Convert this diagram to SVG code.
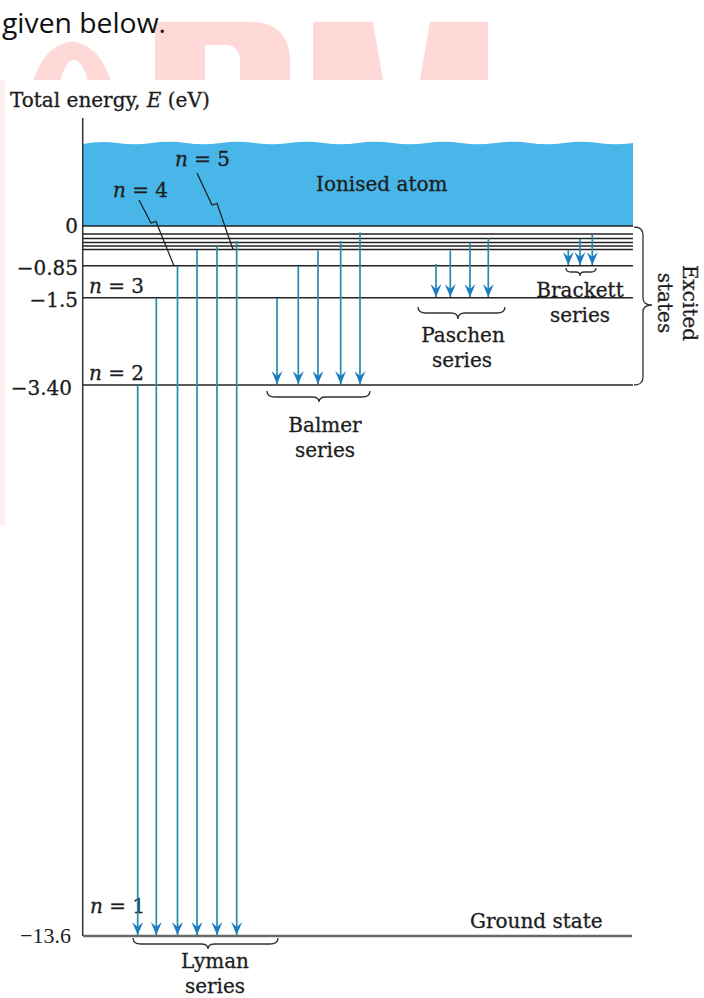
<svg xmlns="http://www.w3.org/2000/svg" width="704" height="998" viewBox="0 0 704 998">
<style>
.t{font-family:"DejaVu Serif","Liberation Serif",serif;font-size:20px;fill:#1d1d1d;stroke:#1d1d1d;stroke-width:0.3}
.it{font-style:italic}
.lvl{stroke:#222;stroke-width:1.4}
.arr{stroke:#2a8aae;stroke-width:1.7;marker-end:url(#ah)}
.brace{fill:none;stroke:#333;stroke-width:1.3}
.ptr{fill:none;stroke:#1d1d1d;stroke-width:1.2}
.wm{fill:#ffd8d8}
</style>
<defs>
<marker id="ah" markerUnits="userSpaceOnUse" orient="auto" viewBox="0 -5.5 13 11" refX="13" refY="0" markerWidth="13" markerHeight="11">
<path d="M0,-5.5 L13,0 L0,5.5 L5,0 Z" fill="#1a7cc4"/>
</marker>
</defs>
<rect width="704" height="998" fill="#fff"/>
<g id="watermark">
<path class="wm" fill-rule="evenodd" d="M28,115 A44,73 0 1 1 116,115 A44,73 0 1 1 28,115 Z M56,118 A18,58 0 1 0 92,118 A18,58 0 1 0 56,118 Z"/>
<path class="wm" fill-rule="evenodd" d="M155,22 L250,22 Q290,22 290,62 L290,80 L155,80 Z M205,45 L225,45 Q240,45 240,62 L240,80 L205,80 Z"/>
<path class="wm" d="M313,22 L373,22 L383,80 L313,80 Z M430,22 L488,22 L488,80 L420,80 Z"/>
<rect x="8" y="80" width="696" height="918" fill="#fff"/>
<rect x="0" y="80" width="5" height="445" fill="#fff0f0"/>
</g>
<text x="2" y="33" font-family="'Open Sans','Liberation Sans',sans-serif" font-size="27" fill="#111" textLength="164" lengthAdjust="spacingAndGlyphs">given below.</text>
<g id="ionised">
<path d="M83,144 Q100.2,140.5 117.4,143 T151.8,143 T186.1,143 T220.5,143 T254.9,143 T289.3,143 T323.6,143 T358,143 T392.4,143 T426.8,143 T461.1,143 T495.5,143 T529.9,143 T564.3,143 T598.6,143 T633,143 L633,226 L83,226 Z" fill="#48b6e8"/>
<text class="t" x="316" y="191" font-size="21">Ionised atom</text>
</g>
<g id="axis">
<line x1="82.7" y1="118" x2="82.7" y2="936" stroke="#333" stroke-width="1.5"/>
<text class="t" x="10" y="107" font-size="20.5">Total energy, <tspan class="it">E</tspan> (eV)</text>
<text class="t" x="78" y="233" font-size="19" text-anchor="end">0</text>
<text class="t" x="78" y="275" font-size="19" text-anchor="end">−0.85</text>
<text class="t" x="78" y="307" font-size="19" text-anchor="end">−1.5</text>
<text class="t" x="72" y="395" font-size="19" text-anchor="end">−3.40</text>
<text x="71" y="943" font-family="'Liberation Serif',serif" font-size="22" fill="#1d1d1d" text-anchor="end">−13.6</text>
</g>
<g id="levels">
<line class="lvl" x1="83" y1="226" x2="633" y2="226"/>
<line class="lvl" x1="83" y1="234" x2="633" y2="234"/>
<line class="lvl" x1="83" y1="238.5" x2="633" y2="238.5"/>
<line class="lvl" x1="83" y1="242.5" x2="633" y2="242.5"/>
<line class="lvl" x1="83" y1="246" x2="633" y2="246"/>
<line class="lvl" x1="83" y1="249.5" x2="633" y2="249.5"/>
<line class="lvl" x1="83" y1="265.7" x2="633" y2="265.7"/>
<line class="lvl" x1="83" y1="297.7" x2="633" y2="297.7"/>
<line class="lvl" x1="83" y1="385" x2="633" y2="385"/>
<line x1="83" y1="936" x2="632" y2="936" stroke="#6a6a6a" stroke-width="2.5"/>
<text class="t" x="89" y="293"><tspan class="it">n</tspan> = 3</text>
<text class="t" x="89" y="380"><tspan class="it">n</tspan> = 2</text>
<text class="t" x="90" y="913" font-size="21"><tspan class="it">n</tspan> = 1</text>
<text class="t" x="113" y="197"><tspan class="it">n</tspan> = 4</text>
<text class="t" x="175" y="166"><tspan class="it">n</tspan> = 5</text>
<path class="ptr" d="M139,200 L151,223 L156,221.5 L174,266"/>
<path class="ptr" d="M197,173 L212,205 L217,203.5 L233,249.5"/>
<text class="t" x="470" y="928" font-size="22">Ground state</text>
</g>
<g id="transitions">
<line class="arr" x1="137.7" y1="385" x2="137.7" y2="935"/>
<line class="arr" x1="156.3" y1="298" x2="156.3" y2="935"/>
<line class="arr" x1="177.5" y1="266" x2="177.5" y2="935"/>
<line class="arr" x1="197" y1="250" x2="197" y2="935"/>
<line class="arr" x1="217" y1="246" x2="217" y2="935"/>
<line class="arr" x1="236.7" y1="241" x2="236.7" y2="935"/>
<line class="arr" x1="277" y1="298" x2="277" y2="384"/>
<line class="arr" x1="298.3" y1="266" x2="298.3" y2="384"/>
<line class="arr" x1="318" y1="250.5" x2="318" y2="384"/>
<line class="arr" x1="340.7" y1="241" x2="340.7" y2="384"/>
<line class="arr" x1="360" y1="232.5" x2="360" y2="384"/>
<line class="arr" x1="436" y1="264" x2="436" y2="297"/>
<line class="arr" x1="450.3" y1="250.5" x2="450.3" y2="297"/>
<line class="arr" x1="470" y1="242.5" x2="470" y2="297"/>
<line class="arr" x1="488.3" y1="238.3" x2="488.3" y2="297"/>
<line class="arr" x1="568.3" y1="250" x2="568.3" y2="265"/>
<line class="arr" x1="580" y1="239" x2="580" y2="265"/>
<line class="arr" x1="592.3" y1="235" x2="592.3" y2="265"/>
</g>
<g id="lyman">
<path class="brace" d="M133,938 Q133,944 141,944 L201,944 Q208,944 208,949 Q208,944 215,944 L270,944 Q278,944 278,938"/>
<text class="t" x="215" y="968" font-size="21" text-anchor="middle">Lyman</text>
<text class="t" x="215" y="993" font-size="21" text-anchor="middle">series</text>
</g>
<g id="balmer">
<path class="brace" d="M267,391 Q267,397 275,397 L312,397 Q319,397 319,402 Q319,397 326,397 L362,397 Q370,397 370,391"/>
<text class="t" x="325" y="432" font-size="21" text-anchor="middle">Balmer</text>
<text class="t" x="325" y="457" font-size="21" text-anchor="middle">series</text>
</g>
<g id="paschen">
<path class="brace" d="M418,307 Q418,313 426,313 L451,313 Q458,313 458,319 Q458,313 465,313 L497,313 Q505,313 505,307"/>
<text class="t" x="463" y="342" font-size="21" text-anchor="middle">Paschen</text>
<text class="t" x="462" y="367" font-size="21" text-anchor="middle">series</text>
</g>
<g id="brackett">
<path class="brace" d="M566,268 Q566,272 571,272 L576,272 Q580,272 580,276 Q580,272 584,272 L591,272 Q596,272 596,268"/>
<text class="t" x="580" y="297" font-size="21" text-anchor="middle">Brackett</text>
<text class="t" x="580" y="322" font-size="21" text-anchor="middle">series</text>
</g>
<g id="excited">
<path class="brace" d="M634,227 Q643,227 643,235 L643,298 Q643,305 652,305 Q643,305 643,312 L643,377 Q643,385 634,385"/>
<g transform="translate(683,303) rotate(90)">
<text class="t" x="0" y="0" font-size="21" text-anchor="middle">Excited</text>
<text class="t" x="0" y="25" font-size="21" text-anchor="middle">states</text>
</g>
</g>
</svg>
